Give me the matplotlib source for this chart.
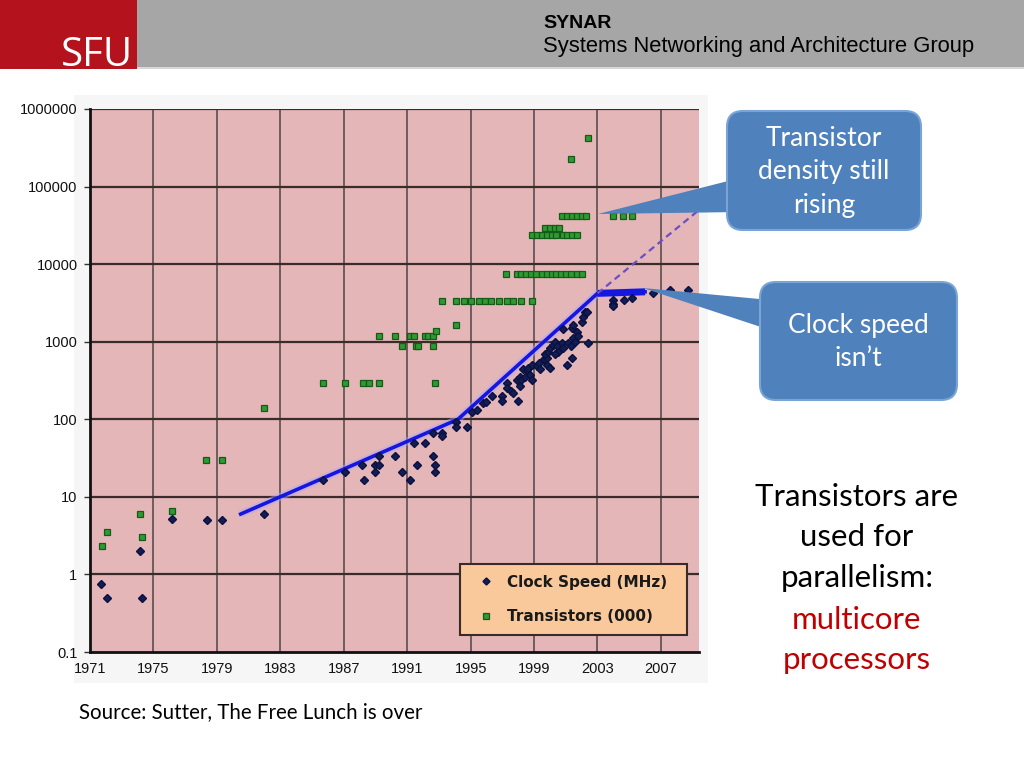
import matplotlib
matplotlib.use("Agg")
import matplotlib.pyplot as plt
from matplotlib.patches import Rectangle, FancyBboxPatch, Polygon
from matplotlib.ticker import FixedLocator, FixedFormatter, NullLocator

# ---------------- data ----------------
clock_years = [1971.7, 1972.1, 1974.15, 1974.3, 1976.2, 1978.4, 1979.3, 1982.0,
               1985.7, 1987.1, 1988.15, 1988.3, 1989.0, 1989.0, 1989.2, 1989.2, 1990.2, 1990.7,
               1991.2, 1991.6, 1991.4, 1992.1, 1992.6, 1993.2, 1993.2, 1992.6, 1992.75, 1992.75,
               1994.1, 1994.1, 1994.75,
               1995.1, 1995.4, 1995.8, 1996.0, 1996.35, 1997.0, 1997.0, 1997.3, 1997.3, 1997.55,
               1997.7, 1998.0, 1997.9, 1998.1, 1998.2, 1998.1, 1998.3, 1998.55, 1998.6, 1998.4,
               1998.75, 1998.9, 1998.9, 1999.2, 1999.3, 1999.4, 1999.6, 1999.8, 1999.7, 1999.9,
               2000.0, 1999.8, 2000.0, 2000.2, 2000.3, 2000.45, 2000.5, 2000.3, 2000.75, 2000.8,
               2001.1, 2001.15, 2001.3, 2001.4, 2001.45, 2001.6, 2001.7, 2001.8, 2001.4, 2001.45,
               2000.8, 2002.0, 2002.1, 2002.2, 2002.35, 2002.4,
               2004.0, 2004.0, 2004.0, 2004.7, 2005.2, 2006.5, 2007.6, 2008.7]
clock_mhz = [0.75, 0.5, 2, 0.5, 5.2, 5, 5, 6,
             16.5, 21, 26, 16.5, 21, 26, 26, 34, 34, 21,
             16.5, 26, 50, 50, 67, 67, 60, 34, 26, 21,
             91, 80, 80,
             125, 130, 160, 165, 200, 200, 170, 295, 250, 230,
             215, 170, 320, 350, 320, 270, 440, 430, 460, 350,
             370, 320, 500, 480, 530, 440, 590, 620, 690, 740,
             830, 500, 460, 910, 1000, 880, 740, 690, 960, 830,
             500, 960, 880, 620, 1120, 1000, 1320, 1180, 1520, 1650,
             1450, 1800, 2100, 2400, 2400, 960,
             3500, 3100, 2900, 3400, 3700, 4300, 4700, 4700]

trans_years = [1971.76, 1972.1, 1974.15, 1974.3, 1976.2, 1978.3, 1979.3, 1982.0,
               1985.7, 1987.1, 1988.2, 1988.6, 1989.2, 1992.75,
               1989.2, 1990.2, 1991.2, 1991.4, 1992.1, 1992.3, 1992.6, 1992.8,
               1990.7, 1991.55, 1991.7, 1992.6,
               1994.1,
               1993.2, 1994.1, 1994.6, 1995.0, 1995.5, 1995.9, 1996.3, 1996.8, 1997.3, 1997.7,
               1998.2, 1998.9,
               1997.2, 1997.9, 1998.2, 1998.5, 1998.8, 1999.1, 1999.5, 1999.8, 2000.1, 2000.4,
               2000.7, 2001.0, 2001.3, 2001.7, 2002.0,
               1998.9, 1999.2, 1999.5, 1999.8, 2000.1, 2000.4, 2000.8, 2001.1, 2001.4, 2001.7,
               1999.7, 2000.0, 2000.3, 2000.6,
               2000.75, 2001.1, 2001.4, 2001.7, 2002.0, 2002.3, 2004.0, 2004.6, 2005.2,
               2001.3, 2002.4]
trans_k = [2.3, 3.5, 6, 3, 6.6, 30, 30, 140,
           290, 290, 290, 290, 290, 290,
           1200, 1200, 1200, 1200, 1200, 1200, 1200, 1380,
           870, 870, 870, 870,
           1650,
           3300, 3300, 3300, 3300, 3300, 3300, 3300, 3300, 3300, 3300,
           3300, 3300,
           7500, 7500, 7500, 7500, 7500, 7500, 7500, 7500, 7500, 7500,
           7500, 7500, 7500, 7500, 7500,
           24000, 24000, 24000, 24000, 24000, 24000, 24000, 24000, 24000, 24000,
           29000, 29000, 29000, 29000,
           42000, 42000, 42000, 42000, 42000, 42000, 42000, 42000, 42000,
           230000, 420000]

trend_years = [1980.5, 1994.2, 2003.0, 2006.0]
trend_mhz = [6, 100, 4200, 4400]
proj_years = [2003.0, 2009.3]
proj_vals = [4200, 48000]

x_ticks = [1971, 1975, 1979, 1983, 1987, 1991, 1995, 1999, 2003, 2007]
y_ticks = [0.1, 1, 10, 100, 1000, 10000, 100000, 1000000]
y_tick_labels = ["0.1", "1", "10", "100", "1000", "10000", "100000", "1000000"]
legend_labels = ["Clock Speed (MHz)", "Transistors (000)"]

# ---------------- figure ----------------
W, H = 1024, 768
fig = plt.figure(figsize=(W / 100, H / 100), dpi=100)
fig.patch.set_facecolor("white")

def fx(x):
    return x / W

def fy(y):
    return 1 - y / H

# light background behind the chart image
fig.add_artist(Rectangle((fx(74), fy(683)), fx(708) - fx(74), fy(95) - fy(683),
                         transform=fig.transFigure, facecolor="#f7f6f6",
                         edgecolor="none", zorder=-5))

ax = fig.add_axes([fx(90), fy(652), fx(699) - fx(90), fy(109) - fy(652)])
ax.set_facecolor("#e4b6b7")
ax.set_yscale("log")
ax.set_xlim(1971, 2009.4)
ax.set_ylim(0.1, 1e6)

# grid
for xv in x_ticks[1:]:
    ax.axvline(xv, color="#6e5c5c", lw=1.4, zorder=1)
for yv in y_ticks[1:]:
    ax.axhline(yv, color="#3b2b2b", lw=1.6, zorder=1)

ax.yaxis.set_major_locator(FixedLocator(y_ticks))
ax.yaxis.set_major_formatter(FixedFormatter(y_tick_labels))
ax.yaxis.set_minor_locator(NullLocator())
ax.xaxis.set_major_locator(FixedLocator(x_ticks))
ax.set_xticklabels([str(v) for v in x_ticks])
ax.tick_params(axis="y", length=4, width=1, color="#333333", pad=5,
               labelsize=10.5, labelcolor="#111111")
ax.tick_params(axis="x", length=0, pad=7, labelsize=10.5, labelcolor="#111111")
for lab in ax.get_xticklabels() + ax.get_yticklabels():
    lab.set_fontfamily("Liberation Sans")

for s in ["top", "right"]:
    ax.spines[s].set_visible(False)
for s in ["left", "bottom"]:
    ax.spines[s].set_color("#111111")
    ax.spines[s].set_linewidth(2)

# trend lines
ax.plot(trend_years, trend_mhz, color="#a8a8ff", lw=5.5, alpha=0.45, zorder=3,
        solid_capstyle="butt")
ax.plot(trend_years, trend_mhz, color="#1616e0", lw=2.6, zorder=4)
ax.plot(trend_years[2:], trend_mhz[2:], color="#1616e0", lw=5, zorder=4,
        solid_capstyle="butt")
ax.plot(proj_years, proj_vals, color="#6b4fc4", lw=1.6, ls=(0, (3, 2)), zorder=4)

# data
l_clock, = ax.plot(clock_years, clock_mhz, ls="none", marker="D", markersize=4.2,
                   color="#121c55", markeredgecolor="#0a1040", zorder=5,
                   label=legend_labels[0])
l_trans, = ax.plot(trans_years, trans_k, ls="none", marker="s", markersize=4.8,
                   color="#2f9a33", markeredgecolor="#155a18", markeredgewidth=0.9,
                   zorder=5, label=legend_labels[1])

leg = ax.legend(handles=[l_clock, l_trans], loc="lower left",
                bbox_to_anchor=(0.6076, 0.031, 0.373, 0.134), mode="expand",
                prop={"family": "DejaVu Sans", "weight": "bold", "size": 11},
                frameon=True, fancybox=False, framealpha=1,
                facecolor="#f9c99b", edgecolor="#3a2a2a",
                handlelength=2.0, handletextpad=0.35, labelspacing=1.3,
                borderpad=0.7, borderaxespad=0, markerscale=0.85)
leg.get_frame().set_linewidth(1.5)
for t in leg.get_texts():
    t.set_color("#1a1a1a")
leg.set_zorder(6)

# ---------------- overlay (slide elements) ----------------
ov = fig.add_axes([0, 0, 1, 1], zorder=10)
ov.set_xlim(0, W)
ov.set_ylim(H, 0)
ov.axis("off")
ov.patch.set_alpha(0)

# header
ov.add_patch(Rectangle((137, 0), W - 137, 67, facecolor="#a6a6a6", edgecolor="none"))
ov.add_patch(Rectangle((137, 67), W - 137, 2, facecolor="#d8d8d8", edgecolor="none"))
ov.add_patch(Rectangle((0, 0), 137, 69, facecolor="#b4121c", edgecolor="none"))
ov.text(97, 66, "SFU", color="white", fontsize=29, fontfamily="Open Sans",
        ha="center", va="baseline")
ov.text(543, 28, "SYNAR", color="black", fontsize=14, fontweight="bold",
        fontfamily="Liberation Sans", ha="left", va="baseline")
ov.text(543, 52, "Systems Networking and Architecture Group", color="black",
        fontsize=15.8, fontfamily="Liberation Sans", ha="left", va="baseline")

# callouts
callout_fill = "#4f81bd"
callout_edge = "#7aa3d6"
ov.add_patch(Polygon([(598, 214), (740, 178), (740, 212)], closed=True,
                     facecolor=callout_fill, edgecolor="none", zorder=2))
ov.add_patch(FancyBboxPatch((727, 111), 194, 119,
                            boxstyle="round,pad=0,rounding_size=16",
                            facecolor=callout_fill, edgecolor=callout_edge, lw=1.5, zorder=3))
for txt, yy in zip(["Transistor", "density still", "rising"], [139, 172, 206]):
    ov.text(824, yy, txt, color="white", fontsize=19, fontfamily="Lato",
            ha="center", va="center", zorder=4)

ov.add_patch(Polygon([(643, 288), (770, 300), (770, 330)], closed=True,
                     facecolor=callout_fill, edgecolor="none", zorder=2))
ov.add_patch(FancyBboxPatch((760, 282), 197, 118,
                            boxstyle="round,pad=0,rounding_size=16",
                            facecolor=callout_fill, edgecolor=callout_edge, lw=1.5, zorder=3))
for txt, yy in zip(["Clock speed", "isn\u2019t"], [325, 358]):
    ov.text(858, yy, txt, color="white", fontsize=19, fontfamily="Lato",
            ha="center", va="center", zorder=4)

# right-hand text
right_lines = ["Transistors are", "used for", "parallelism:", "multicore", "processors"]
right_colors = ["black", "black", "black", "#c00000", "#c00000"]
right_y = [497, 537, 578, 620, 660]
for txt, col, yy in zip(right_lines, right_colors, right_y):
    ov.text(857, yy, txt, color=col, fontsize=22.5, fontfamily="Lato",
            ha="center", va="center")

# source
ov.text(79, 712, "Source: Sutter, The Free Lunch is over", color="black", fontsize=14.8,
        fontfamily="Lato", ha="left", va="center")

fig.savefig("out.png", dpi=100)
